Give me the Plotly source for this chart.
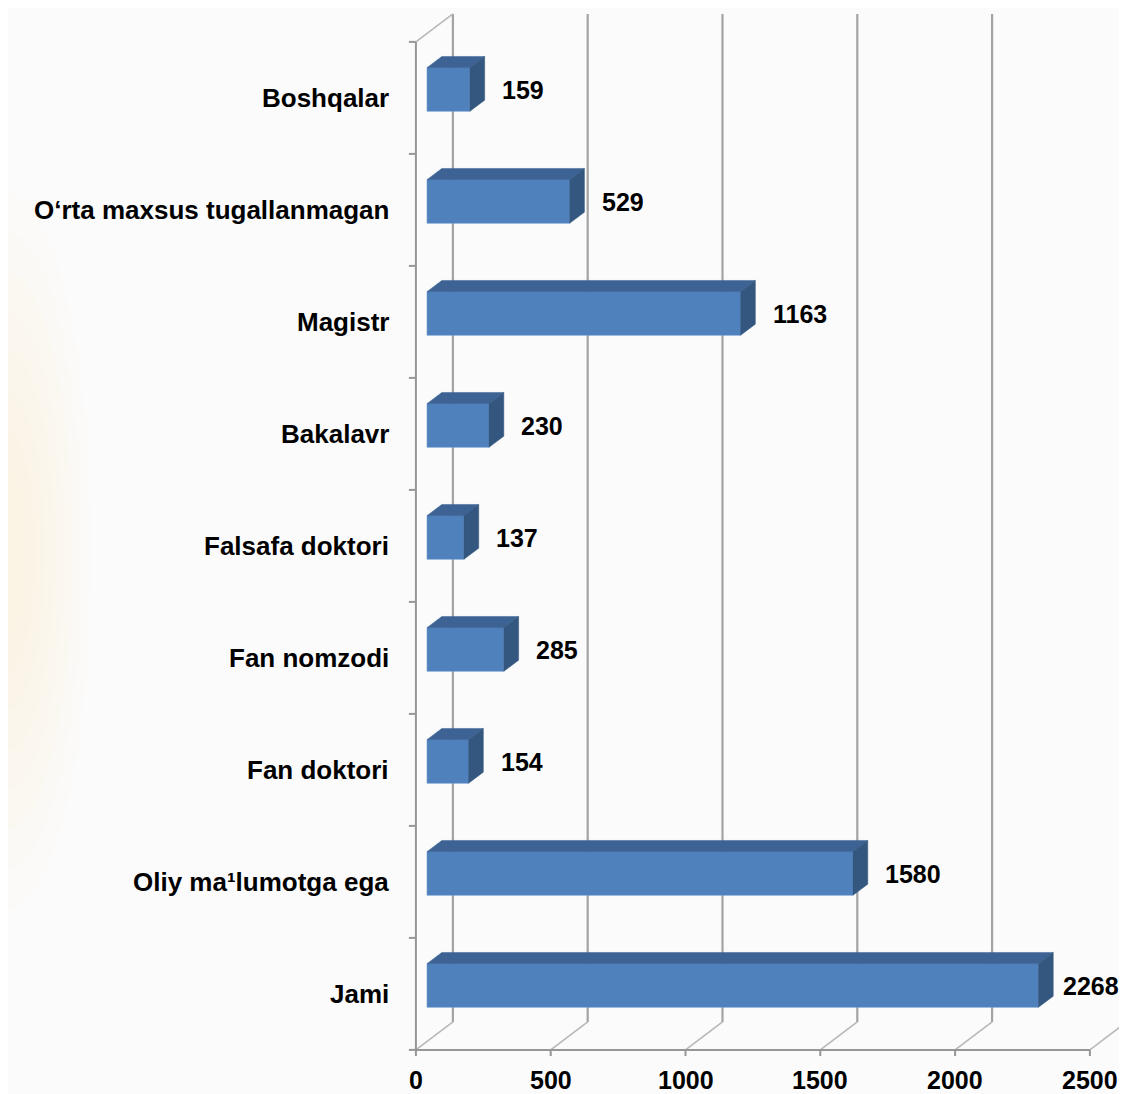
import plotly.graph_objects as go

# ---------------- data ----------------
categories = [
    "Jami",
    "Oliy ma\u00b9lumotga ega",
    "Fan doktori",
    "Fan nomzodi",
    "Falsafa doktori",
    "Bakalavr",
    "Magistr",
    "O\u2018rta maxsus tugallanmagan",
    "Boshqalar",
]
values = [2268, 1580, 154, 285, 137, 230, 1163, 529, 159]
x_ticks = [0, 500, 1000, 1500, 2000, 2500]
x_tick_labels = ["0", "500", "1000", "1500", "2000", "2500"]

# ---------------- style / pseudo-3D geometry ----------------
DEPTH_X = 137.2      # full depth of the floor, in x units
DEPTH_Y = 0.25       # full depth of the floor, in category units
FRONT_F = -0.3       # front plane relative to bar plane
BACK_F = 0.7         # back wall relative to bar plane
BAR_DEPTH_F = 0.4    # bar depth relative to full depth
BAR_H = 0.39
PX_PER_UNIT = 0.2696

FIG_W, FIG_H = 1111, 1086     # page body has an 8px margin
X_RANGE = [-1554.2, 2566.8]
Y_RANGE = [-0.96875, 8.7277]

FRONT_COLOR = "#4F81BD"
TOP_COLOR = "#3D6394"
SIDE_COLOR = "#33577F"
GRID = "#A3A3A3"
AXIS = "#969696"
DIAG = "#B8B8B8"
FONT = "Arial, Liberation Sans, sans-serif"

n = len(categories)
ypos = list(range(n))
fx, fy = FRONT_F * DEPTH_X, FRONT_F * DEPTH_Y
bx, by = BACK_F * DEPTH_X, BACK_F * DEPTH_Y
dbx, dby = BAR_DEPTH_F * DEPTH_X, BAR_DEPTH_F * DEPTH_Y
y_lo, y_hi = -0.5, n - 0.5
xmin, xmax = x_ticks[0], x_ticks[-1]

shapes = []

# very soft orange glow on the left of the background
for k in range(8):
    rx = 0.075 * (1 - k / 9)
    ry = 0.33 * (1 - k / 9)
    shapes.append(dict(type="circle", xref="paper", yref="paper",
                       x0=-rx, x1=rx, y0=0.50 - ry, y1=0.50 + ry,
                       fillcolor="rgba(255,200,100,0.018)", line=dict(width=0),
                       layer="below"))


def seg(x0, y0, x1, y1, color, width):
    shapes.append(dict(type="line", xref="x", yref="y", x0=x0, y0=y0, x1=x1, y1=y1,
                       line=dict(color=color, width=width), layer="below"))


# back wall vertical gridlines
for t in x_ticks:
    seg(t + bx, y_lo + by, t + bx, y_hi + by, GRID, 2.2)
# floor diagonals
for t in x_ticks:
    seg(t + fx, y_lo + fy, t + bx, y_lo + by, DIAG, 1.6)
# left wall top edge
seg(xmin + fx, y_hi + fy, xmin + bx, y_hi + by, DIAG, 1.6)
# front axes
seg(xmin + fx, y_lo + fy, xmax + fx, y_lo + fy, AXIS, 2)
seg(xmin + fx, y_lo + fy, xmin + fx, y_hi + fy, AXIS, 2)
# tick marks
for t in x_ticks:
    seg(t + fx, y_lo + fy, t + fx, y_lo + fy - 0.055, AXIS, 2)
for k in range(n + 1):
    seg(xmin + fx - 26, k - 0.5 + fy, xmin + fx, k - 0.5 + fy, AXIS, 2)

fig = go.Figure()

# front faces of bars
fig.add_trace(go.Bar(
    y=ypos, x=values, base=0, orientation="h", width=BAR_H,
    marker=dict(color=FRONT_COLOR, line=dict(width=0.6, color="#6F9AD0")),
    hoverinfo="skip",
))

# top and side faces
tx, ty, sx, sy = [], [], [], []
for i, v in zip(ypos, values):
    top = i + BAR_H / 2
    bot = i - BAR_H / 2
    tx += [0, v, v + dbx, dbx, 0, None]
    ty += [top, top, top + dby, top + dby, top, None]
    sx += [v, v + dbx, v + dbx, v, v, None]
    sy += [bot, bot + dby, top + dby, top, bot, None]

fig.add_trace(go.Scatter(x=tx, y=ty, mode="lines", fill="toself",
                         fillcolor=TOP_COLOR, line=dict(color=TOP_COLOR, width=0.5),
                         hoverinfo="skip"))
fig.add_trace(go.Scatter(x=sx, y=sy, mode="lines", fill="toself",
                         fillcolor=SIDE_COLOR, line=dict(color=SIDE_COLOR, width=0.5),
                         hoverinfo="skip"))

annotations = []
# value labels (kept inside the right edge of the figure)
LABEL_SHIFT = 30
LABEL_ROOM = (LABEL_SHIFT + 58) / PX_PER_UNIT
for i, v in zip(ypos, values):
    annotations.append(dict(x=min(v, X_RANGE[1] - LABEL_ROOM), y=i, xref="x", yref="y",
                            text=str(v), showarrow=False,
                            xanchor="left", yanchor="middle", xshift=LABEL_SHIFT,
                            font=dict(family=FONT, size=25, color="black", weight="bold")))
# category labels
for i, c in zip(ypos, categories):
    annotations.append(dict(x=xmin + fx, y=i + fy, xref="x", yref="y", text=c,
                            showarrow=False, xanchor="right", yanchor="middle", xshift=-25,
                            font=dict(family=FONT, size=26, color="black", weight="bold")))
# x tick labels
for t, lab in zip(x_ticks, x_tick_labels):
    annotations.append(dict(x=t + fx, y=y_lo + fy, xref="x", yref="y", text=lab,
                            showarrow=False, xanchor="center", yanchor="top", yshift=-14,
                            font=dict(family=FONT, size=25, color="black", weight="bold")))

fig.update_layout(
    width=FIG_W, height=FIG_H, autosize=False,
    margin=dict(l=0, r=0, t=0, b=0),
    paper_bgcolor="#FBFBFB", plot_bgcolor="rgba(0,0,0,0)",
    showlegend=False, hovermode=False,
    xaxis=dict(range=X_RANGE, visible=False, fixedrange=True),
    yaxis=dict(range=Y_RANGE, visible=False, fixedrange=True),
    shapes=shapes, annotations=annotations,
)

fig.write_html("out.html")
